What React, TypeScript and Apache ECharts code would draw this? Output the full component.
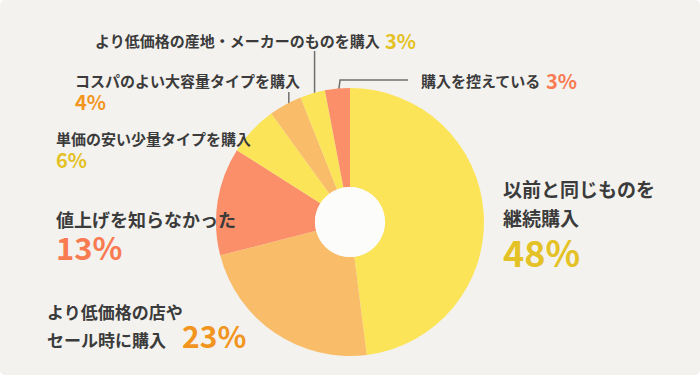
import React, { useEffect, useRef } from "react";
import * as echarts from "echarts";

const names = [
  "以前と同じものを\n継続購入",
  "より低価格の店や\nセール時に購入",
  "値上げを知らなかった",
  "単価の安い少量タイプを購入",
  "コスパのよい大容量タイプを購入",
  "より低価格の産地・メーカーのものを購入",
  "購入を控えている",
];
const values = [48, 23, 13, 6, 4, 3, 3];
const sliceColors = ["#fce459", "#f9bd69", "#fa8f6a", "#fce459", "#f9bd69", "#fce459", "#fa8f6a"];
const pctColors = ["#e4c124", "#f2951f", "#f97b52", "#e4c124", "#f2951f", "#e4c124", "#f97b52"];
// "below": percent on its own line; "inline": percent after the last line
const pctPlacement = ["below", "inline", "below", "below", "below", "inline", "inline"];
const nameFont = [19, 17, 18, 15, 15, 15, 15];
const nameLH = [29, 28, 30, 22, 22, 22, 22];
const pctFont = [36, 30, 31, 20, 20, 20, 20];
const pctLH = [38, 28, 25, 20, 20, 22, 22];
const pctGap = [0, 16, 0, 0, 0, 5, 5];
const pctLift = [0, 8, 0, 0, 0, 0, 0];
const labelPos: [number, number][] = [
  [503, 174],
  [47, 297],
  [56, 204],
  [56, 127],
  [75, 69],
  [95, 29],
  [421, 69],
];
const guides: any[] = [null, null, null, null, { toY: 92 }, { toY: 51 }, { cornerY: 80, toX: 408 }];

const CX = 350;
const CY = 222;
const R_IN = 35;
const R_OUT = 134;
const R_ANCHOR = 127;

const textColor = "#3b3b3b";
const fontFamily = '"Noto Sans CJK JP", "Noto Sans", sans-serif';

export default function App() {
  const ref = useRef<HTMLDivElement>(null);
  useEffect(() => {
    if (!ref.current) return;
    const chart = echarts.init(ref.current, null, { renderer: "svg" });
    const total = values.reduce((a, b) => a + b, 0);
    const cum: number[] = [];
    values.reduce((acc, v, i) => {
      cum[i] = acc;
      return acc + v;
    }, 0);

    const data = values.map((v, i) => {
      const lines = names[i].split("\n");
      const p = `{p|${v}%}`;
      let fmt = "";
      if (pctPlacement[i] === "below") {
        fmt = lines.map((l) => `{n|${l}}`).join("\n") + "\n" + p;
      } else {
        fmt = lines.map((l) => `{n|${l}}`).join("\n") + p;
      }
      return {
        name: names[i],
        value: v,
        itemStyle: { color: sliceColors[i] },
        label: {
          formatter: fmt,
          rich: {
            n: {
              fontSize: nameFont[i],
              lineHeight: nameLH[i],
              color: textColor,
              fontWeight: "bold",
              fontFamily,
              verticalAlign: "middle",
            },
            p: {
              fontSize: pctFont[i],
              lineHeight: pctLH[i],
              color: pctColors[i],
              fontWeight: "bold",
              fontFamily,
              padding: [0, 0, pctLift[i], pctGap[i]],
              verticalAlign: "middle",
            },
          },
        },
        labelLine: { show: !!guides[i] },
      };
    });

    chart.setOption({
      animation: false,
      backgroundColor: "transparent",
      series: [
        {
          type: "pie",
          center: [CX, CY],
          radius: [R_IN, R_OUT],
          startAngle: 90,
          clockwise: true,
          avoidLabelOverlap: false,
          silent: true,
          itemStyle: { borderWidth: 0 },
          label: { show: true, position: "outside" },
          labelLine: {
            show: false,
            lineStyle: { color: "#6f6f6f", width: 1.5 },
          },
          labelLayout: (params: any) => {
            const i = params.dataIndex;
            const pos = labelPos[i];
            const res: any = { x: pos[0], y: pos[1], align: "left", verticalAlign: "top" };
            const g = guides[i];
            if (g) {
              const frac = (cum[i] + values[i] / 2) / total;
              const th = frac * Math.PI * 2;
              const ax = CX + R_ANCHOR * Math.sin(th);
              const ay = CY - R_ANCHOR * Math.cos(th);
              if (g.toY !== undefined) {
                res.labelLinePoints = [
                  [ax, ay],
                  [ax, (ay + g.toY) / 2],
                  [ax, g.toY],
                ];
              } else {
                res.labelLinePoints = [
                  [ax, ay],
                  [ax + 2, g.cornerY],
                  [g.toX, g.cornerY],
                ];
              }
            }
            return res;
          },
          data,
        },
        {
          type: "pie",
          center: [CX, CY],
          radius: [0, R_IN],
          silent: true,
          label: { show: false },
          labelLine: { show: false },
          itemStyle: { color: "#fcfcfa", borderWidth: 0 },
          data: [{ value: 1, name: "" }],
        },
      ],
    });
    return () => chart.dispose();
  }, []);
  return (
    <div style={{ position: "fixed", left: 0, top: 0, width: 700, height: 375, background: "#ffffff" }}>
      <div
        ref={ref}
        style={{ width: 700, height: 375, background: "#f3f2ef", borderRadius: 5 }}
      />
    </div>
  );
}
